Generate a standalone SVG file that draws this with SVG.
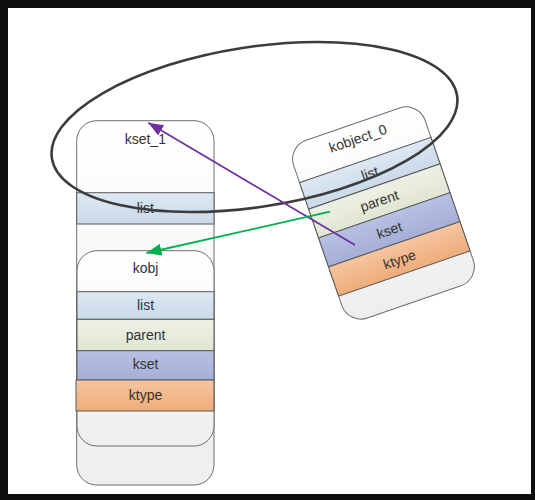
<svg xmlns="http://www.w3.org/2000/svg" width="535" height="500" viewBox="0 0 535 500">
<style>
.box{stroke:#6e6e6e;stroke-width:1;fill:url(#gBox)}
.band{stroke:#5a5a5a;stroke-width:1}
.list{fill:url(#gList)}
.parent{fill:url(#gParent)}
.kset{fill:url(#gKset)}
.ktype{fill:url(#gKtype)}
text{font-family:"Liberation Sans",Arial,sans-serif;font-size:14px;fill:#333;text-anchor:middle}
.conn{fill:none;stroke-width:1.8}
</style>
<defs>
<linearGradient id="gBox" x1="0" y1="0" x2="0" y2="1"><stop offset="0" stop-color="#ffffff"/><stop offset="1" stop-color="#eeeeee"/></linearGradient>
<linearGradient id="gList" x1="0" y1="0" x2="0" y2="1"><stop offset="0" stop-color="#dde8f3"/><stop offset="1" stop-color="#c9dae9"/></linearGradient>
<linearGradient id="gParent" x1="0" y1="0" x2="0" y2="1"><stop offset="0" stop-color="#edf1e5"/><stop offset="1" stop-color="#e0e6d1"/></linearGradient>
<linearGradient id="gKset" x1="0" y1="0" x2="0" y2="1"><stop offset="0" stop-color="#b8c1e3"/><stop offset="1" stop-color="#a4afd7"/></linearGradient>
<linearGradient id="gKtype" x1="0" y1="0" x2="0" y2="1"><stop offset="0" stop-color="#f5c5a0"/><stop offset="1" stop-color="#eeac79"/></linearGradient>
<marker id="arrP" markerUnits="userSpaceOnUse" markerWidth="16" markerHeight="12" refX="15" refY="6" orient="auto"><path d="M0,0 L15,6 L0,12 Z" fill="#7030a0"/></marker>
<marker id="arrG" markerUnits="userSpaceOnUse" markerWidth="16" markerHeight="12" refX="15" refY="6" orient="auto"><path d="M0,0 L15,6 L0,12 Z" fill="#00b050"/></marker>
</defs>
<g id="frame">
<rect x="0" y="0" width="535" height="500" fill="#0e0e0e"/>
<rect x="8" y="8" width="523" height="486" fill="#ffffff"/>
</g>
<g id="kset_1">
<rect class="box" x="76.7" y="120.7" width="137.3" height="364.3" rx="20" ry="20"/>
<text x="145.3" y="143.5">kset_1</text>
<rect class="band list" x="76.7" y="192.7" width="137.3" height="31.3"/>
<text x="145.3" y="212.5">list</text>
</g>
<g id="kobj">
<rect class="box" x="77" y="250.7" width="137" height="195.3" rx="20" ry="20"/>
<text x="145.5" y="272.5">kobj</text>
<rect class="band list" x="77" y="291.7" width="137" height="27.6"/>
<text x="145.5" y="310">list</text>
<rect class="band parent" x="77" y="319.3" width="137" height="31.4"/>
<text x="145.5" y="339.5">parent</text>
<rect class="band kset" x="77" y="350.7" width="137" height="29.3"/>
<text x="145.5" y="369">kset</text>
<rect class="band ktype" x="76" y="380" width="138" height="31"/>
<text x="145.5" y="400">ktype</text>
</g>
<g id="kobject_0" transform="translate(383.5,213) rotate(-19)">
<rect class="box" x="-69.5" y="-94" width="139" height="188" rx="20" ry="20"/>
<text x="0" y="-74">kobject_0</text>
<rect class="band list" x="-69.5" y="-56" width="139" height="28"/>
<text x="0" y="-37">list</text>
<rect class="band parent" x="-69.5" y="-28" width="139" height="30.5"/>
<text x="0" y="-8">parent</text>
<rect class="band kset" x="-69.5" y="2.5" width="139" height="30.5"/>
<text x="0" y="23">kset</text>
<rect class="band ktype" x="-69.5" y="33" width="139" height="31"/>
<text x="0" y="54">ktype</text>
</g>
<g id="group_ellipse">
<ellipse cx="254.5" cy="127" rx="205" ry="80" transform="rotate(-8.8 254.5 127)" fill="none" stroke="#3c3c3c" stroke-width="2.6"/>
</g>
<g id="connectors">
<line class="conn" x1="355" y1="245" x2="148.3" y2="122.7" stroke="#7030a0" marker-end="url(#arrP)"/>
<line class="conn" x1="330" y1="211.7" x2="146.5" y2="253" stroke="#00b050" marker-end="url(#arrG)"/>
</g>
</svg>
